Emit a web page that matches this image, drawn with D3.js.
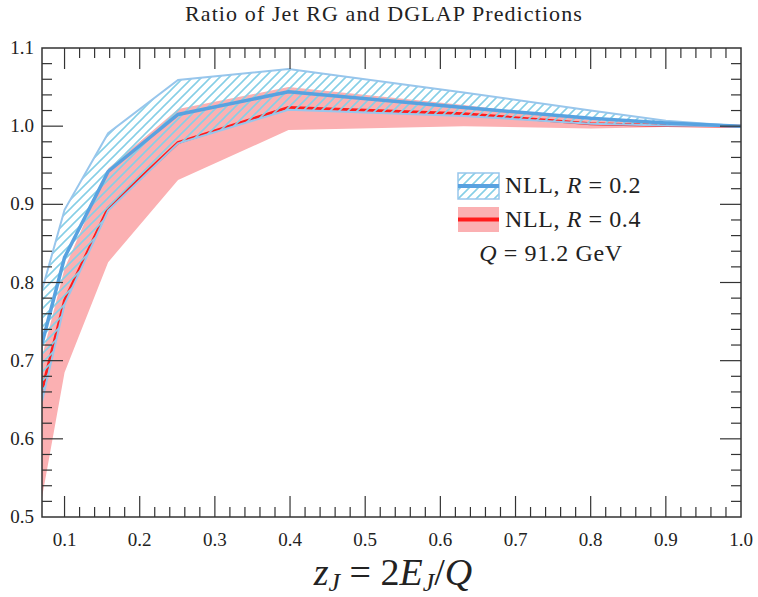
<!DOCTYPE html>
<html><head><meta charset="utf-8">
<script src="https://cdn.jsdelivr.net/npm/d3@7"></script>
<style>body{margin:0;background:#fff}svg{display:block}text{font-family:"Liberation Serif","Times New Roman",serif;fill:#222}</style>
</head><body><svg id="c" width="758" height="597"></svg>
<script>
const zVals      = [0.07, 0.1, 0.158, 0.251, 0.398, 0.631, 0.8, 0.9, 1.0];
const r02Central = [0.722, 0.832, 0.942, 1.015, 1.044, 1.024, 1.010, 1.004, 1.0];
const r02Upper   = [0.790, 0.893, 0.991, 1.059, 1.073, 1.043, 1.020, 1.007, 1.0];
const r02Lower   = [0.648, 0.772, 0.892, 0.978, 1.021, 1.013, 1.003, 1.001, 1.0];
const r04Central = [0.662, 0.777, 0.895, 0.979, 1.024, 1.016, 1.003, 1.001, 1.0];
const r04Upper   = [0.705, 0.818, 0.946, 1.022, 1.050, 1.027, 1.008, 1.003, 1.0];
const r04Lower   = [0.525, 0.685, 0.826, 0.931, 0.995, 1.000, 0.997, 0.999, 1.0];
const xMajor = [0.1,0.2,0.3,0.4,0.5,0.6,0.7,0.8,0.9,1.0];
const yMajor = [0.5,0.6,0.7,0.8,0.9,1.0,1.1];

const svg = d3.select("#c");
const L=42,R=741,T=48,B=517;
const x = d3.scaleLinear().domain([0.07,1.0]).range([L,R]);
const y = d3.scaleLinear().domain([0.5,1.1]).range([B,T]);

const defs = svg.append("defs");
const pat = defs.append("pattern").attr("id","hatch").attr("patternUnits","userSpaceOnUse")
  .attr("width",9).attr("height",9);
pat.append("path").attr("d","M-1,10 L10,-1 M-3,3 L3,-3 M6,12 L12,6")
  .attr("stroke","#86cfe6").attr("stroke-width",1.6).attr("fill","none");
defs.append("clipPath").attr("id","clip").append("rect").attr("x",L).attr("y",T).attr("width",R-L).attr("height",B-T);

const idx = zVals.map((d,i)=>i);
const area = (lo,hi)=>d3.area().x(i=>x(zVals[i])).y0(i=>y(lo[i])).y1(i=>y(hi[i]))(idx);
const line = (v)=>d3.line().x(i=>x(zVals[i])).y(i=>y(v[i]))(idx);

const g = svg.append("g").attr("clip-path","url(#clip)");
g.append("path").attr("d",area(r04Lower,r04Upper)).attr("fill","#fbb0b2");
g.append("path").attr("d",line(r04Central)).attr("fill","none").attr("stroke","#ff1c1c").attr("stroke-width",3);
g.append("path").attr("d",area(r02Lower,r02Upper)).attr("fill","url(#hatch)").attr("stroke","#98c6ec").attr("stroke-width",2);
g.append("path").attr("d",line(r02Central)).attr("fill","none").attr("stroke","#58a2e0").attr("stroke-width",3.5);

// frame & ticks
svg.append("rect").attr("x",L).attr("y",T).attr("width",R-L).attr("height",B-T).attr("fill","none").attr("stroke","#333").attr("stroke-width",1.5);
const xMinor = d3.range(0.12,1.0,0.02).filter(v=>Math.abs(v*10-Math.round(v*10))>0.01);
const yMinor = d3.range(0.52,1.1,0.02).filter(v=>Math.abs(v*10-Math.round(v*10))>0.01);
const tk = svg.append("g").attr("stroke","#333").attr("stroke-width",1.2);
xMajor.filter(v=>v<1).forEach(v=>{
  tk.append("line").attr("x1",x(v)).attr("x2",x(v)).attr("y1",B).attr("y2",B-21);
  tk.append("line").attr("x1",x(v)).attr("x2",x(v)).attr("y1",T).attr("y2",T+21);
});
xMinor.forEach(v=>{
  tk.append("line").attr("x1",x(v)).attr("x2",x(v)).attr("y1",B).attr("y2",B-10);
  tk.append("line").attr("x1",x(v)).attr("x2",x(v)).attr("y1",T).attr("y2",T+10);
});
yMajor.filter(v=>v>0.5&&v<1.1).forEach(v=>{
  tk.append("line").attr("y1",y(v)).attr("y2",y(v)).attr("x1",L).attr("x2",L+21);
  tk.append("line").attr("y1",y(v)).attr("y2",y(v)).attr("x1",R).attr("x2",R-21);
});
yMinor.forEach(v=>{
  tk.append("line").attr("y1",y(v)).attr("y2",y(v)).attr("x1",L).attr("x2",L+10);
  tk.append("line").attr("y1",y(v)).attr("y2",y(v)).attr("x1",R).attr("x2",R-10);
});
xMajor.forEach(v=>svg.append("text").attr("x",x(v)).attr("y",546).attr("text-anchor","middle").attr("font-size",19).text(d3.format(".1f")(v)));
yMajor.forEach(v=>svg.append("text").attr("x",34).attr("y",y(v)+6).attr("text-anchor","end").attr("font-size",19).text(d3.format(".1f")(v)));

svg.append("text").attr("x",384).attr("y",21).attr("text-anchor","middle").attr("font-size",22).attr("letter-spacing",1.1).text("Ratio of Jet RG and DGLAP Predictions");

// x title
const xt = svg.append("text").attr("x",393).attr("y",585).attr("text-anchor","middle").attr("font-size",38);
xt.append("tspan").attr("font-style","italic").text("z");
xt.append("tspan").attr("font-style","italic").attr("font-size",26).attr("dy",6).text("J");
xt.append("tspan").attr("dy",-6).text(" = 2");
xt.append("tspan").attr("font-style","italic").text("E");
xt.append("tspan").attr("font-style","italic").attr("font-size",26).attr("dy",6).text("J");
xt.append("tspan").attr("dy",-6).text("/");
xt.append("tspan").attr("font-style","italic").text("Q");

// legend
const lg = svg.append("g");
lg.append("rect").attr("x",458).attr("y",173).attr("width",41).attr("height",26).attr("fill","url(#hatch)").attr("stroke","#98c6ec").attr("stroke-width",1.5);
lg.append("line").attr("x1",458).attr("x2",499).attr("y1",186).attr("y2",186).attr("stroke","#58a2e0").attr("stroke-width",4);
lg.append("rect").attr("x",458).attr("y",207).attr("width",41).attr("height",25).attr("fill","#fbb0b2");
lg.append("line").attr("x1",458).attr("x2",499).attr("y1",219.5).attr("y2",219.5).attr("stroke","#ff1c1c").attr("stroke-width",4);
[["0.2",193],["0.4",227]].forEach(([r,yy])=>{
  const t = lg.append("text").attr("x",505).attr("y",yy).attr("font-size",24).attr("letter-spacing",0.6);
  t.append("tspan").text("NLL, ");
  t.append("tspan").attr("font-style","italic").text("R");
  t.append("tspan").text(" = "+r);
});
const qt = lg.append("text").attr("x",551).attr("y",261).attr("text-anchor","middle").attr("font-size",24).attr("letter-spacing",0.6);
qt.append("tspan").attr("font-style","italic").text("Q");
qt.append("tspan").text(" = 91.2 GeV");
</script></body></html>
